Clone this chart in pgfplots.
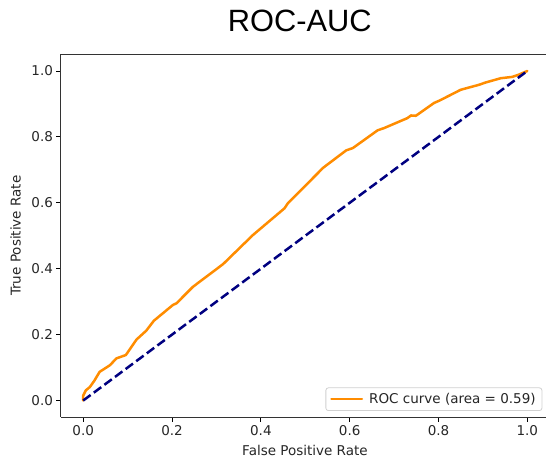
\documentclass[border=0pt]{standalone}
\usepackage{fontspec}
\setmainfont{DejaVu Sans}
\newfontfamily\arialfont{Liberation Sans}
\usepackage{pgfplots}
\pgfplotsset{compat=1.18}
\definecolor{darkorange}{RGB}{255,140,0}
\definecolor{mplnavy}{RGB}{0,0,128}

\begin{document}
\begin{tikzpicture}
\begin{axis}[
  at={(0pt,0pt)}, anchor=south west,
  scale only axis, width=485pt, height=362.5pt,
  xmin=-0.05, xmax=1.042, ymin=-0.05, ymax=1.05,
  axis x line*=bottom, axis y line*=left,
  xtick={0,0.2,0.4,0.6,0.8,1.0},
  ytick={0,0.2,0.4,0.6,0.8,1.0},
  xtick pos=left, ytick pos=left,
  tick align=outside,
  major tick length=4.5pt,
  tick style={black, line width=0.9pt},
  axis line style={black!80, line width=1pt},
  tick label style={font=\fontsize{13.5}{16}\selectfont, text=black!85},
  /pgf/number format/fixed,
  /pgf/number format/fixed zerofill,
  /pgf/number format/precision=1,
  /pgf/number format/assume math mode=true,
  xlabel={False Positive Rate},
  ylabel={True Positive Rate},
  label style={font=\fontsize{13.5}{16}\selectfont, text=black!85},
  xlabel style={at={(axis description cs:0.503,0)}, anchor=base, yshift=-38.7pt},
  ylabel style={at={(axis description cs:-0.0835,0.5)}, anchor=base},
  title={ROC-AUC},
  title style={at={(axis description cs:0.4922,1.0463)}, anchor=base, font=\arialfont\fontsize{30.8}{36}\selectfont},
  legend style={at={(axis description cs:0.9924,0.0166)}, anchor=south east,
    draw=black!18, line width=0.8pt, rounded corners=2.5pt, fill=white,
    font=\fontsize{13.5}{16}\selectfont, text=black!85, inner xsep=4.3pt, inner ysep=3.5pt},
  legend cell align=left,
  legend image code/.code={\draw[#1] (0pt,0pt) -- (30.5pt,0pt); \path (34.5pt,0pt);},
]
\addplot[darkorange, line width=2.5pt, line join=round, line cap=round] coordinates {
(0,0) (0.000,0.015) (0.006,0.031) (0.015,0.041) (0.025,0.060) (0.037,0.087)
(0.060,0.107) (0.075,0.128) (0.096,0.138) (0.120,0.185) (0.142,0.212)
(0.159,0.242) (0.202,0.290) (0.210,0.295) (0.247,0.345) (0.315,0.414)
(0.382,0.502) (0.453,0.583) (0.461,0.599) (0.487,0.634) (0.532,0.695)
(0.539,0.705) (0.592,0.759) (0.607,0.766) (0.663,0.820) (0.678,0.827)
(0.730,0.857) (0.738,0.865) (0.749,0.864) (0.790,0.903) (0.802,0.910)
(0.850,0.943) (0.891,0.958) (0.906,0.965) (0.940,0.978) (0.966,0.982)
(0.981,0.989) (1,1)
};
\addlegendentry{ROC curve (area = 0.59)}
\addplot[mplnavy, line width=2.5pt, dash pattern=on 9.2pt off 4pt, forget plot] coordinates {(0,0) (1,1)};
\draw[black!80, line width=1pt] (rel axis cs:0,1) -- (rel axis cs:1,1);
\end{axis}
\pgfresetboundingbox
\path (-61pt,-43pt) rectangle (485pt,417pt);
\end{tikzpicture}
\end{document}
